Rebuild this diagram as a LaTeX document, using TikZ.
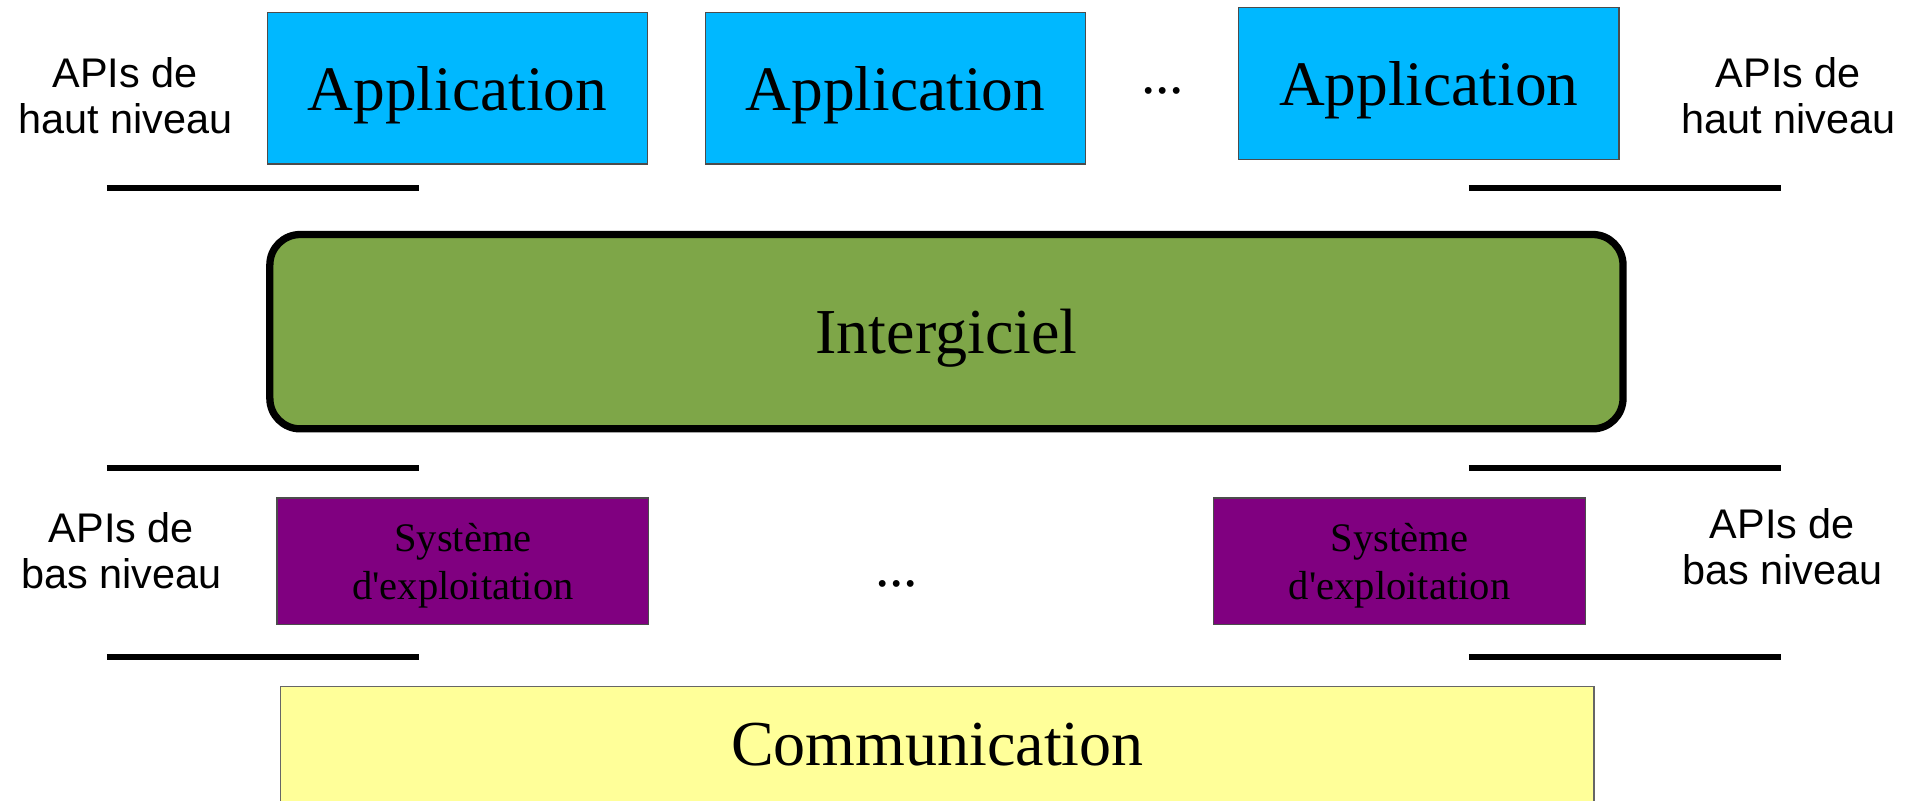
\documentclass[tikz,border=0pt]{standalone}
\usepackage{fontspec}
\setmainfont{Liberation Serif}
\newfontfamily\apifont{Liberation Sans}
\usetikzlibrary{positioning}

\definecolor{appblue}{RGB}{0, 184, 255}
\definecolor{midgreen}{RGB}{126, 166, 72}
\definecolor{osviolet}{RGB}{128, 0, 128}
\definecolor{commyellow}{RGB}{255, 255, 153}

\tikzset{
  layerbox/.style={draw=black!70, line width=0.6pt, inner sep=0pt, align=center, text depth=0pt},
  appbox/.style={layerbox, fill=appblue, minimum width=6.26cm, minimum height=2.5cm,
    font=\fontsize{29.7}{36}\selectfont},
  osbox/.style={layerbox, fill=osviolet, minimum width=6.12cm, minimum height=2.08cm,
    font=\fontsize{19}{22.8}\selectfont},
  apilabel/.style={align=center, inner sep=0pt, font=\apifont\fontsize{19.4}{21.6}\selectfont},
  etc/.style={inner sep=0pt, font=\fontsize{27}{30}\selectfont},
  apibar/.style={line width=0.1cm},
}

\begin{document}
\begin{tikzpicture}[x=0.02cm, y=-0.02cm]
  \useasboundingbox (0,0) rectangle (1568,659);

  % applications on top
  \node[appbox] (app1) at (376.5, 72.5) {Application};
  \node[appbox] (app2) at (737, 72.5) {Application};
  \node[etc] (appdots) at (957, 75) {...};
  \node[appbox] (app3) at (1176, 68.5) {Application};

  % high level APIs
  \node[apilabel] (hautg) at (103, 79) {APIs de\\haut niveau};
  \node[apilabel] (hautd) at (1472, 79) {APIs de\\haut niveau};
  \draw[apibar] (88,155) -- (345,155);
  \draw[apibar] (1209,155) -- (1466,155);

  % middleware
  \node[draw, line width=0.12cm, rounded corners=0.5cm, fill=midgreen,
    minimum width=22.28cm, minimum height=3.2cm, inner sep=0pt, text depth=0pt,
    font=\fontsize{30}{36}\selectfont] (mw) at (779, 273) {Intergiciel};

  % low level APIs
  \draw[apibar] (88,385) -- (345,385);
  \draw[apibar] (1209,385) -- (1466,385);
  \node[apilabel] (basg) at (100, 453.5) {APIs de\\bas niveau};
  \node[apilabel] (basd) at (1467, 450) {APIs de\\bas niveau};
  \draw[apibar] (88,541) -- (345,541);
  \draw[apibar] (1209,541) -- (1466,541);

  % operating systems
  \node[osbox] (os1) at (381, 462) {Système\\d\textquotesingle exploitation};
  \node[etc] (osdots) at (738, 481) {...};
  \node[osbox] (os2) at (1152, 462) {Système\\d\textquotesingle exploitation};

  % network layer
  \node[layerbox, draw=black!60, fill=commyellow, minimum width=21.62cm, minimum height=1.92cm,
    font=\fontsize{30}{36}\selectfont] (comm) at (771.5, 613) {Communication};
\end{tikzpicture}
\end{document}
